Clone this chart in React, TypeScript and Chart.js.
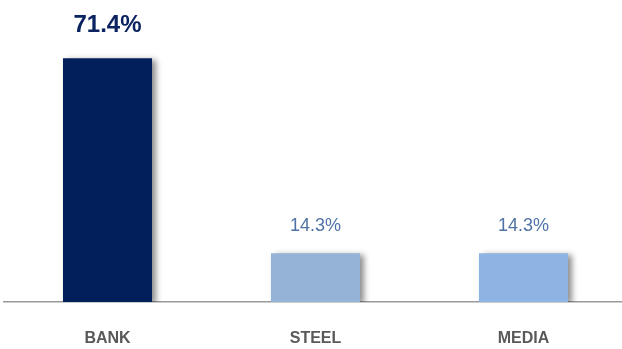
import React, { useEffect, useRef } from "react";
import { Chart, registerables } from "chart.js";

Chart.register(...registerables);

const categories = ["BANK", "STEEL", "MEDIA"];
const values = [71.4, 14.3, 14.3];
const valueLabels = ["71.4%", "14.3%", "14.3%"];
const barColors = ["#021f5c", "#95b3d7", "#8db4e2"];
const labelColors = ["#0b2360", "#4f73a6", "#4f73a6"];
const labelFonts = ["bold 24px Arial, 'Liberation Sans', sans-serif", "18px Arial, 'Liberation Sans', sans-serif", "18px Arial, 'Liberation Sans', sans-serif"];
const labelGaps = [26, 22, 22];

const shadowPlugin = {
  id: "barShadow",
  beforeDatasetsDraw(chart: any) {
    const ctx = chart.ctx;
    ctx.save();
    ctx.shadowColor = "rgba(0,0,0,0.45)";
    ctx.shadowBlur = 6;
    ctx.shadowOffsetX = 4;
    ctx.shadowOffsetY = 2;
  },
  afterDatasetsDraw(chart: any) {
    chart.ctx.restore();
  },
};

const valueLabelPlugin = {
  id: "valueLabels",
  afterDatasetsDraw(chart: any) {
    const ctx = chart.ctx;
    const meta = chart.getDatasetMeta(0);
    ctx.save();
    meta.data.forEach((bar: any, i: number) => {
      ctx.font = labelFonts[i];
      ctx.fillStyle = labelColors[i];
      ctx.textAlign = "center";
      ctx.textBaseline = "alphabetic";
      ctx.fillText(valueLabels[i], bar.x, bar.y - labelGaps[i]);
    });
    ctx.restore();
  },
};

export default function App() {
  const ref = useRef<HTMLCanvasElement>(null);
  useEffect(() => {
    if (!ref.current) return;
    const chart = new Chart(ref.current, {
      type: "bar",
      data: {
        labels: categories,
        datasets: [
          {
            data: values,
            backgroundColor: barColors,
            borderWidth: 0,
            barPercentage: 0.428,
            categoryPercentage: 1,
          },
        ],
      },
      options: {
        responsive: false,
        animation: false,
        devicePixelRatio: 1,
        layout: { padding: { left: 3.5, right: 2.5, top: 29, bottom: 0 } },
        plugins: { legend: { display: false }, tooltip: { enabled: false } },
        scales: {
          x: {
            grid: { display: false, drawTicks: false },
            border: { display: true, color: "#9a9a9a", width: 1.5 },
            ticks: {
              color: "#595959",
              padding: 27,
              font: { family: "Arial, 'Liberation Sans', sans-serif", size: 16, weight: "bold" },
            },
            afterFit(scale: any) {
              scale.height = 47;
            },
          },
          y: { display: false, min: 0, max: 80 },
        },
      },
      plugins: [shadowPlugin, valueLabelPlugin],
    });
    return () => chart.destroy();
  }, []);
  return (
    <div style={{ position: "absolute", left: 0, top: 0, width: 622, height: 349, overflow: "hidden", background: "#fff" }}>
      <canvas ref={ref} width={630} height={349} style={{ width: 630, height: 349, display: "block" }} />
    </div>
  );
}
